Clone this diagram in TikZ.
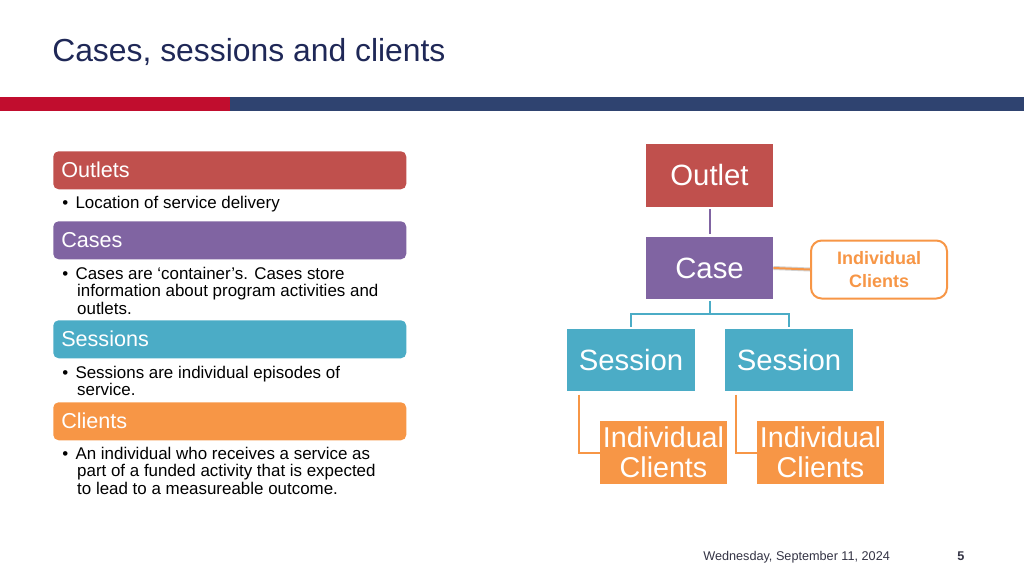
\documentclass[tikz,border=0pt]{standalone}
\usepackage{fontspec}
\setmainfont{Liberation Sans}
\usetikzlibrary{calc}
\definecolor{cred}{HTML}{C0504D}
\definecolor{cpurple}{HTML}{8064A2}
\definecolor{cteal}{HTML}{4BACC6}
\definecolor{corange}{HTML}{F79646}
\definecolor{titlenavy}{HTML}{1F2857}
\definecolor{barred}{HTML}{C10D2E}
\definecolor{barnavy}{HTML}{2F4370}
\definecolor{footgray}{HTML}{333344}
\tikzset{
  hdr/.style={rounded corners=4pt, minimum width=264.75pt, minimum height=28.5pt, inner sep=0pt},
  hdrtext/.style={anchor=west, text=white, font=\fontsize{16.2}{17}\selectfont, inner sep=0pt},
  bodytext/.style={anchor=north west, align=left, font=\fontsize{12.7}{13.2}\selectfont, inner sep=0pt, text=black},
  orgbox/.style={minimum width=95.5pt, minimum height=47pt, inner sep=0pt, text=white, font=\fontsize{22}{23}\selectfont},
  clientbox/.style={minimum width=95.5pt, minimum height=47pt, inner sep=0pt, text=white, align=center, font=\fontsize{21.5}{22.5}\selectfont},
  conn/.style={line width=1.5pt}
}
\begin{document}
\begin{tikzpicture}[x=0.75pt,y=-0.75pt]
\useasboundingbox (0,0) rectangle (1024,576);
% title
\node[anchor=base west, inner sep=0pt, text=titlenavy, font=\fontsize{23.9}{26}\selectfont] (title) at (52,61) {Cases, sessions and clients};
% bar
\fill[barred] (0,97) rectangle (230,111);
\fill[barnavy] (230,97) rectangle (1024,111);
% left headers
\node[hdr, fill=cred, anchor=north west] (h1) at (53,151) {};
\node[hdrtext] (h1t) at (61,170) {Outlets};
\node[bodytext] (b1) at (62,195.5) {\textbullet\hspace{5.5pt}Location of service delivery};
\node[hdr, fill=cpurple, anchor=north west] (h2) at (53,221) {};
\node[hdrtext] (h2t) at (61,240.5) {Cases};
\node[bodytext] (b2) at (62,266.5) {\textbullet\hspace{5.5pt}Cases are ‘container’s. Cases store\\\hspace{11.2pt}information about program activities and\\\hspace{11.2pt}outlets.};
\node[hdr, fill=cteal, anchor=north west] (h3) at (53,320) {};
\node[hdrtext] (h3t) at (61,339) {Sessions};
\node[bodytext] (b3) at (62,365.5) {\textbullet\hspace{5.5pt}Sessions are individual episodes of\\\hspace{11.2pt}service.};
\node[hdr, fill=corange, anchor=north west] (h4) at (53,402) {};
\node[hdrtext] (h4t) at (61,421) {Clients};
\node[bodytext] (b4) at (62,446.5) {\textbullet\hspace{5.5pt}An individual who receives a service as\\\hspace{11.2pt}part of a funded activity that is expected\\\hspace{11.2pt}to lead to a measureable outcome.};
% right diagram
\node[orgbox, fill=cred] (outlet) at (709.5,175.5) {Outlet};
\node[orgbox, fill=cpurple] (case) at (709.5,268) {Case};
\node[orgbox, fill=cteal] (s1) at (631,360) {Session};
\node[orgbox, fill=cteal] (s2) at (789,360) {Session};
\node[clientbox, fill=corange] (c1) at (663.5,452.5) {Individual\\Clients};
\node[clientbox, fill=corange] (c2) at (820.5,452.5) {Individual\\Clients};
\node[draw=corange, line width=1.5pt, rounded corners=8pt, fill=white, minimum width=102pt, minimum height=43.5pt, inner sep=0pt, align=center, text=corange, font=\bfseries\fontsize{13.5}{17}\selectfont] (callout) at (879,269.5) {Individual\\Clients};
% connectors
\draw[conn, cpurple] ([yshift=-1.5pt]outlet.south) -- ([yshift=1.5pt]case.north);
\draw[conn, cteal] ([yshift=-1pt]case.south) -- ++(0,13.5) coordinate (hb) -| ([yshift=1pt]s1.north);
\draw[conn, cteal] (hb) -| ([yshift=1pt]s2.north);
\draw[conn, corange] ($(s1.south west)+(12,3)$) |- (c1.west);
\draw[conn, corange] ($(s2.south west)+(11,3)$) |- (c2.west);
\draw[line width=3pt, gray!35] (case.east) -- (callout.west);
\draw[conn, corange] (case.east) -- (callout.west);
% footer
\node[anchor=base west, inner sep=0pt, text=footgray, font=\fontsize{9.5}{11}\selectfont] (date) at (703,560) {Wednesday, September 11, 2024};
\node[anchor=base, inner sep=0pt, text=footgray, font=\bfseries\fontsize{9.5}{11}\selectfont] (page) at (961,560) {5};
\end{tikzpicture}
\end{document}
